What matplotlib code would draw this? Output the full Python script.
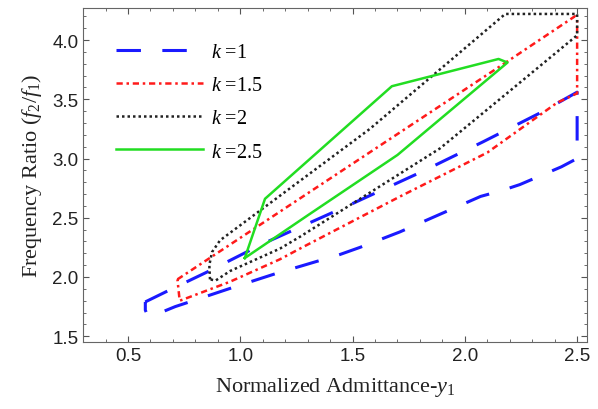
import matplotlib.pyplot as plt
from matplotlib.ticker import MultipleLocator

plt.rcParams['mathtext.fontset'] = 'custom'
plt.rcParams['mathtext.rm'] = 'Liberation Serif'
plt.rcParams['mathtext.it'] = 'Liberation Serif:italic'

# boundary of the operating region for each k (closed outlines)
k1_x = [0.577, 0.674, 0.85, 1.10, 1.50, 1.81, 2.08, 2.33, 2.50,
        2.50, 2.43, 2.245, 2.165, 2.07, 1.89, 1.71, 1.533, 1.444, 1.16, 0.98, 0.79, 0.71,
        0.607, 0.585, 0.577, 0.577]
k1_y = [1.79, 1.88, 2.04, 2.28, 2.62, 2.89, 3.14, 3.38, 3.56,
        3.00, 2.93, 2.78, 2.73, 2.68, 2.53, 2.38, 2.25, 2.19, 2.03, 1.92, 1.80, 1.75,
        1.67, 1.685, 1.72, 1.79]

k15_x = [0.72, 2.19, 2.49, 2.50, 2.50, 2.41, 2.10, 1.712, 1.266, 1.177, 0.954, 0.745, 0.73, 0.72]
k15_y = [1.98, 3.82, 4.20, 4.18, 3.55, 3.47, 3.05, 2.68, 2.24, 2.15, 1.96, 1.81, 1.80, 1.98]

k2_x = [0.865, 0.862, 0.874, 0.91, 1.577, 2.18, 2.50, 2.50, 2.20, 1.889, 1.266, 1.177, 0.954, 0.89, 0.865]
k2_y = [1.98, 2.10, 2.21, 2.31, 3.25, 4.22, 4.22, 4.04, 3.57, 3.085, 2.34, 2.24, 2.05, 1.97, 1.98]

k25_x = [1.02, 1.11, 1.675, 2.15, 2.19, 1.70, 1.30, 1.02]
k25_y = [2.16, 2.66, 3.61, 3.84, 3.81, 3.03, 2.52, 2.16]

labels = [r'$k$ =1', r'$k$ =1.5', r'$k$ =2', r'$k$ =2.5']

fig, ax = plt.subplots(figsize=(5.98, 4.10), dpi=100)
fig.subplots_adjust(left=0.139, right=0.982, bottom=0.163, top=0.978)

ax.plot(k1_x, k1_y, color='#1a1aff', lw=2.2, dashes=(8, 7), label=labels[0])
ax.plot(k15_x, k15_y, color='#ff1a1a', lw=1.8, linestyle=(0, (2.5, 1.5, 1, 1.5)), label=labels[1])
ax.plot(k2_x, k2_y, color='#222222', lw=1.8, linestyle=(0, (1, 1.2)), label=labels[2])
ax.plot(k25_x, k25_y, color='#22dd22', lw=1.8, label=labels[3])

ax.set_xlim(0.30, 2.545)
ax.set_ylim(1.45, 4.27)
ax.xaxis.set_major_locator(MultipleLocator(0.5))
ax.xaxis.set_minor_locator(MultipleLocator(0.1))
ax.yaxis.set_major_locator(MultipleLocator(0.5))
ax.yaxis.set_minor_locator(MultipleLocator(0.1))
ax.tick_params(which='both', direction='in', top=True, right=True, color='#555555',
               labelcolor='#222222', labelsize=13.5, labelfontfamily='Liberation Sans')
ax.tick_params(which='major', length=4)
ax.tick_params(which='minor', length=2)
for s in ax.spines.values():
    s.set_color('#666666')

ax.set_xlabel(r'Normalized Admittance-$y_1$', family='Liberation Serif', fontsize=16, color='#222222', labelpad=8)
ax.set_ylabel(r'Frequency Ratio ($f_2/f_1$)', family='Liberation Serif', fontsize=16, color='#222222', labelpad=6)

leg = ax.legend(loc='upper left', frameon=False, prop={'family': 'Liberation Serif', 'size': 14.5},
                handlelength=4.3, handletextpad=0.4, labelspacing=0.7,
                bbox_to_anchor=(0.03, 0.95))

plt.savefig('out.png', dpi=100)
